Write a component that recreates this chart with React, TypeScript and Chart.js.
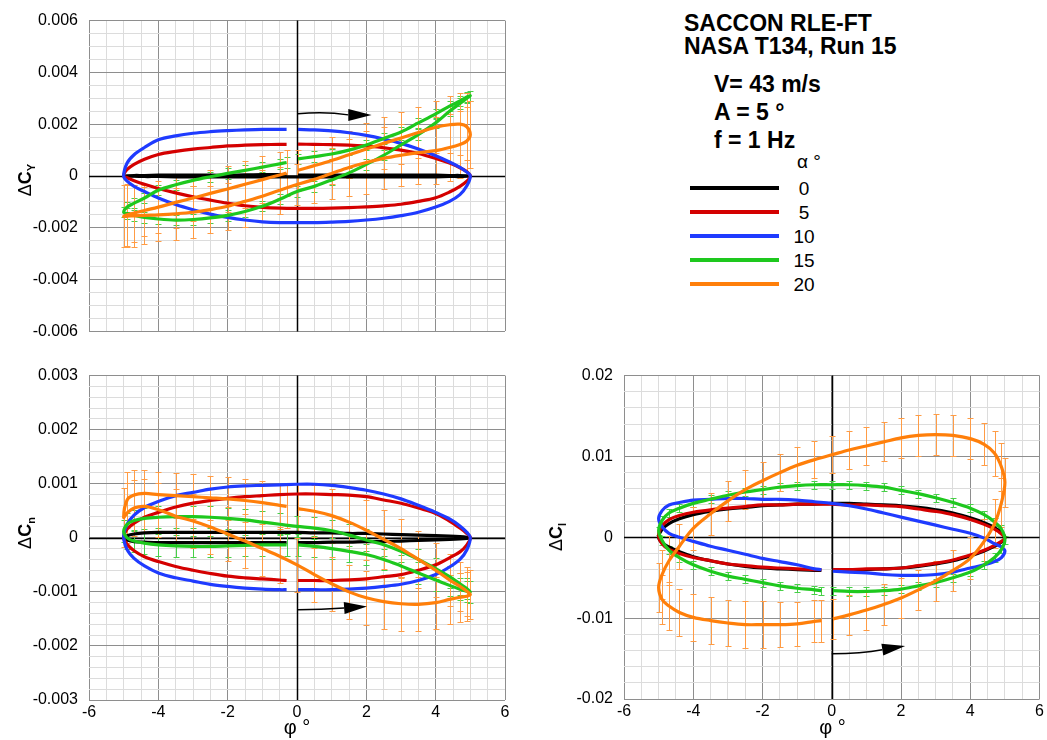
import React, { useEffect, useRef } from 'react';
import { Chart, registerables } from 'chart.js';

Chart.register(...registerables);

const FONT = '"Liberation Sans", Arial, Helvetica, sans-serif';

// Roll angle phi (deg) along one oscillation cycle: 0 -> 5 -> -5 -> -0.3
const PHI = [
  0.03, 0.5, 1, 1.5, 2, 2.5, 3, 3.5, 4, 4.4, 4.7, 4.9,
  5,
  4.9, 4.7, 4.4, 4, 3.5, 3, 2.5, 2, 1.5, 1, 0.5, 0, -0.5, -1, -1.5, -2, -2.5, -3, -3.5, -4, -4.4, -4.7, -4.9,
  -5,
  -4.9, -4.7, -4.4, -4, -3.5, -3, -2.5, -2, -1.5, -1, -0.5, -0.3,
];

const ALPHA_LABELS = ['0', '5', '10', '15', '20'];
const LINE_COLORS = ['#000000', '#d40000', '#1f3bff', '#1ec81e', '#ff7f0a'];
const ERR_COLORS = ['', '', '', '#48d048', '#ff9c45'];

// ---------- Delta C_Y ----------
const CY_BLACK = [
  0.00003, 0.00003, 0.00003, 0.00003, 0.00003, 0.00003, 0.00003, 0.00003, 0.00003, 0.00002, 0.00002, 0.00001,
  0,
  -0.00001, -0.00002, -0.00002, -0.00003, -0.00003, -0.00003, -0.00003, -0.00003, -0.00003, -0.00003, -0.00003, -0.00003,
  -0.00003, -0.00003, -0.00003, -0.00003, -0.00003, -0.00003, -0.00003, -0.00002, -0.00002, -0.00001, -0.00001,
  0,
  0.00001, 0.00002, 0.00002, 0.00003, 0.00003, 0.00003, 0.00003, 0.00003, 0.00004, 0.00005, 0.00005, 0.00004,
];
const CY_RED = [
  0.00123, 0.00122, 0.00121, 0.00119, 0.00116, 0.00109, 0.001, 0.00087, 0.00068, 0.0005, 0.00032, 0.00016,
  0,
  -0.0002, -0.0004, -0.00062, -0.00084, -0.00098, -0.00109, -0.00115, -0.00119, -0.00122, -0.00124, -0.00125, -0.00125,
  -0.00124, -0.00121, -0.00115, -0.00105, -0.00093, -0.0008, -0.00065, -0.00048, -0.00032, -0.00018, -0.00007,
  0,
  0.00025, 0.00045, 0.00065, 0.00083, 0.00095, 0.00104, 0.0011, 0.00116, 0.00119, 0.00121, 0.00122, 0.00122,
];
const CY_BLUE = [
  0.0018, 0.00178, 0.00174, 0.00167, 0.00157, 0.00143, 0.00126, 0.00104, 0.00078, 0.00054, 0.00033, 0.00015,
  0,
  -0.00038, -0.00072, -0.00098, -0.0012, -0.0014, -0.00153, -0.00163, -0.0017, -0.00175, -0.00178, -0.0018, -0.0018,
  -0.0018, -0.00177, -0.0017, -0.0016, -0.00147, -0.0013, -0.0011, -0.00085, -0.0006, -0.0004, -0.0002,
  0,
  0.0005, 0.00082, 0.0011, 0.0014, 0.00155, 0.00165, 0.00171, 0.00175, 0.00178, 0.0018, 0.0018, 0.0018,
];
const CY_GREEN = [
  0.00066, 0.00075, 0.00085, 0.001, 0.0012, 0.00145, 0.0017, 0.00205, 0.0024, 0.0027, 0.0029, 0.00305,
  0.0031,
  0.003, 0.0028, 0.0025, 0.00205, 0.0016, 0.0012, 0.0008, 0.00045, 0.00012, -0.00015, -0.0004, -0.0006,
  -0.0009, -0.00117, -0.00137, -0.00152, -0.00162, -0.00168, -0.0017, -0.00166, -0.0016, -0.00152, -0.00145,
  -0.0014,
  -0.0012, -0.00105, -0.00085, -0.00055, -0.00034, -0.00017, -0.00003, 0.0001, 0.00022, 0.00034, 0.00047, 0.00052,
];
const CY_ORANGE = [
  0.00022, 0.0004, 0.0006, 0.00082, 0.00104, 0.00126, 0.00147, 0.00168, 0.00188, 0.00198, 0.002, 0.0019,
  0.0016,
  0.00135, 0.00122, 0.0011, 0.00098, 0.0009, 0.0008, 0.00068, 0.00052, 0.00033, 0.0001, -0.00013, -0.00033,
  -0.00055, -0.00078, -0.00098, -0.00117, -0.0013, -0.0014, -0.00146, -0.0015, -0.00152, -0.00154, -0.00155,
  -0.00156,
  -0.0015, -0.00143, -0.00133, -0.0012, -0.00102, -0.00085, -0.00067, -0.0005, -0.00032, -0.00014, 0.00004, 0.00011,
];
const CY_ORANGE_ERR = [
  0.0008, 0.0008, 0.0009, 0.0009, 0.001, 0.001, 0.001, 0.001, 0.001, 0.0011, 0.0012, 0.0013,
  0.0013,
  0.0013, 0.0013, 0.0013, 0.0013, 0.0012, 0.0012, 0.0012, 0.0012, 0.0011, 0.001, 0.0009, 0.0008,
  0.0009, 0.001, 0.001, 0.0009, 0.0009, 0.001, 0.001, 0.001, 0.0011, 0.0012, 0.0012,
  0.0012,
  0.0012, 0.0011, 0.001, 0.001, 0.001, 0.0009, 0.0009, 0.0009, 0.0009, 0.0009, 0.0009, 0.0009,
];
const CY_GREEN_ERR = 0.0002;

// ---------- Delta C_n ----------
const CN_BLACK = [
  -0.00009, -0.00009, -0.00008, -0.00008, -0.00007, -0.00007, -0.00006, -0.00005, -0.00004, -0.00003, -0.00002, -0.00001,
  0,
  0.00001, 0.00002, 0.00003, 0.00004, 0.00005, 0.00006, 0.00007, 0.00008, 0.00008, 0.00009, 0.00009, 0.0001,
  0.0001, 0.0001, 0.0001, 0.0001, 0.0001, 0.0001, 0.0001, 0.0001, 0.00009, 0.00007, 0.00004,
  0,
  -0.00004, -0.00007, -0.00008, -0.00009, -0.00009, -0.00009, -0.00009, -0.00009, -0.00009, -0.00009, -0.00009, -0.00009,
];
const CN_RED = [
  -0.00079, -0.00079, -0.00079, -0.00078, -0.00076, -0.00072, -0.00068, -0.0006, -0.0005, -0.00037, -0.00026, -0.00013,
  0,
  0.00008, 0.00018, 0.00031, 0.00045, 0.00055, 0.00064, 0.0007, 0.00076, 0.00079, 0.0008, 0.00081, 0.00081,
  0.0008, 0.00078, 0.00076, 0.00073, 0.00069, 0.00064, 0.00057, 0.00047, 0.00038, 0.00027, 0.00016,
  0,
  -0.00012, -0.00024, -0.00035, -0.00044, -0.00053, -0.0006, -0.00066, -0.00071, -0.00074, -0.00076, -0.00078, -0.00079,
];
const CN_BLUE = [
  -0.00096, -0.00096, -0.00096, -0.00095, -0.00093, -0.0009, -0.00086, -0.00079, -0.00068, -0.00054, -0.0004, -0.00022,
  0,
  0.0001, 0.00022, 0.00035, 0.00047, 0.0006, 0.00072, 0.00081, 0.00088, 0.00093, 0.00097, 0.00099, 0.00099,
  0.00098, 0.00097, 0.00096, 0.00094, 0.0009, 0.00084, 0.00078, 0.00067, 0.00056, 0.00042, 0.00025,
  0.00003,
  -0.00022, -0.00038, -0.00052, -0.00065, -0.00074, -0.0008, -0.00086, -0.0009, -0.00093, -0.00095, -0.00096, -0.00096,
];
const CN_GREEN = [
  -0.00013, -0.00016, -0.0002, -0.00025, -0.00031, -0.0004, -0.00052, -0.00065, -0.00078, -0.00088, -0.00095, -0.00099,
  -0.001,
  -0.00094, -0.00085, -0.00072, -0.00057, -0.0004, -0.00025, -0.00013, -0.00004, 0.00005, 0.00013, 0.00018, 0.00021,
  0.00025, 0.00029, 0.00033, 0.00036, 0.00038, 0.00039, 0.00039, 0.00038, 0.00036, 0.00032, 0.00025,
  0.00012,
  0, -0.00006, -0.0001, -0.00013, -0.00015, -0.00016, -0.00016, -0.00015, -0.00014, -0.00013, -0.00013, -0.00013,
];
const CN_ORANGE = [
  0.00054, 0.00049, 0.00041, 0.00029, 0.00014, -0.00003, -0.0002, -0.0004, -0.0006, -0.00078, -0.0009, -0.00099,
  -0.00105,
  -0.00108, -0.0011, -0.00114, -0.0012, -0.00123, -0.00122, -0.00118, -0.00111, -0.001, -0.00085, -0.00068, -0.0005,
  -0.00034, -0.0002, -0.00006, 0.00007, 0.0002, 0.00031, 0.0004, 0.00052, 0.00058, 0.00055, 0.00046,
  0.00038,
  0.0007, 0.00079, 0.00082, 0.0008, 0.00078, 0.00076, 0.00074, 0.00072, 0.00069, 0.00065, 0.0006, 0.00058,
];
const CN_ORANGE_ERR = [
  0.00045, 0.00048, 0.0005, 0.00052, 0.00055, 0.00055, 0.00055, 0.00052, 0.0005, 0.00048, 0.00046, 0.00045,
  0.00045,
  0.00045, 0.00045, 0.00046, 0.00048, 0.0005, 0.0005, 0.0005, 0.0005, 0.0005, 0.0005, 0.0005, 0.0005,
  0.0005, 0.0005, 0.0005, 0.0005, 0.0005, 0.0005, 0.0005, 0.0005, 0.0005, 0.00052, 0.00055,
  0.00055,
  0.00052, 0.00046, 0.00043, 0.00042, 0.00042, 0.00042, 0.00041, 0.0004, 0.0004, 0.0004, 0.0004, 0.0004,
];
const CN_GREEN_ERR = 0.0002;

// ---------- Delta C_l ----------
const CL_BLACK = [
  -0.0041, -0.0041, -0.004, -0.0039, -0.0038, -0.0036, -0.0033, -0.0029, -0.0023, -0.0017, -0.0011, -0.0006,
  0,
  0.0006, 0.0012, 0.0018, 0.0024, 0.003, 0.0034, 0.0037, 0.0039, 0.004, 0.0041, 0.0042, 0.0042,
  0.0041, 0.0041, 0.004, 0.0039, 0.0037, 0.0035, 0.0032, 0.0028, 0.0023, 0.0017, 0.001,
  0,
  -0.0007, -0.0012, -0.0018, -0.0024, -0.0029, -0.0033, -0.0036, -0.0038, -0.0039, -0.004, -0.0041, -0.0041,
];
const CL_RED = [
  -0.004, -0.004, -0.0039, -0.0039, -0.0038, -0.0035, -0.0032, -0.0028, -0.0022, -0.0016, -0.001, -0.0005,
  -0.0001,
  0.0004, 0.001, 0.0016, 0.0022, 0.0028, 0.0032, 0.0035, 0.0038, 0.0039, 0.004, 0.004, 0.0041,
  0.0041, 0.0041, 0.004, 0.004, 0.0038, 0.0036, 0.0034, 0.0031, 0.0027, 0.0022, 0.0014,
  0.0002,
  -0.0008, -0.0015, -0.002, -0.0025, -0.0029, -0.0033, -0.0035, -0.0037, -0.0038, -0.0039, -0.004, -0.004,
];
const CL_BLUE = [
  -0.0042, -0.0043, -0.0044, -0.0046, -0.0047, -0.0047, -0.0046, -0.0043, -0.0038, -0.0034, -0.003, -0.0025,
  -0.0017,
  -0.0012, -0.0008, -0.0001, 0.0005, 0.001, 0.0015, 0.002, 0.0025, 0.003, 0.0035, 0.0039, 0.0042,
  0.0044, 0.0046, 0.0047, 0.0047, 0.0048, 0.0048, 0.0047, 0.0046, 0.0043, 0.004, 0.0033,
  0.0023,
  0.0013, 0.0005, 0, -0.0005, -0.0011, -0.0016, -0.0021, -0.0026, -0.003, -0.0034, -0.0039, -0.004,
];
const CL_GREEN = [
  -0.0066, -0.0067, -0.0067, -0.0066, -0.0064, -0.006, -0.0056, -0.005, -0.0043, -0.0034, -0.0025, -0.0015,
  -0.0003,
  0.001, 0.0019, 0.0028, 0.0036, 0.0043, 0.0049, 0.0054, 0.0058, 0.0062, 0.0064, 0.0065, 0.0065,
  0.0065, 0.0064, 0.0062, 0.0059, 0.0056, 0.0052, 0.0047, 0.0042, 0.0036, 0.003, 0.0021,
  0.0008,
  -0.0004, -0.0016, -0.0025, -0.0034, -0.0042, -0.0048, -0.0052, -0.0056, -0.006, -0.0063, -0.0065, -0.0066,
];
const CL_ORANGE = [
  -0.0101, -0.0096, -0.009, -0.0083, -0.0075, -0.0065, -0.0054, -0.0041, -0.0026, -0.0005, 0.0017, 0.0043,
  0.0068,
  0.0087, 0.0104, 0.0115, 0.0122, 0.0126, 0.0127, 0.0126, 0.0123, 0.0118, 0.0113, 0.0108, 0.0102,
  0.0096, 0.0089, 0.008, 0.007, 0.0059, 0.0045, 0.0029, 0.0011, -0.0011, -0.0029, -0.0046,
  -0.0062,
  -0.0077, -0.0085, -0.0093, -0.0099, -0.0103, -0.0106, -0.0108, -0.0108, -0.0108, -0.0107, -0.0104, -0.0103,
];
const CL_ORANGE_ERR = [
  0.0025, 0.0025, 0.0025, 0.0025, 0.0025, 0.0025, 0.0025, 0.0025, 0.0026, 0.0028, 0.003, 0.003,
  0.003,
  0.003, 0.0028, 0.0026, 0.0025, 0.0025, 0.0025, 0.0025, 0.0025, 0.0024, 0.0023, 0.0023, 0.0023,
  0.0023, 0.0023, 0.0023, 0.0023, 0.0024, 0.0025, 0.0026, 0.0027, 0.0028, 0.003, 0.003,
  0.003,
  0.003, 0.003, 0.0029, 0.0029, 0.0029, 0.0029, 0.0029, 0.0029, 0.0028, 0.0027, 0.0026, 0.0026,
];
const CL_GREEN_ERR = 0.0005;

// Direction arrows: [start x,y, control x,y, head base x,y, tip x,y] in data units
const ARROW_CY = [0.02, 0.0024, 0.8, 0.0025, 1.48, 0.00236, 2.15, 0.00236];
const ARROW_CN = [0.03, -0.00133, 0.7, -0.00133, 1.36, -0.0013, 2.02, -0.00127];
const ARROW_CL = [0.0, -0.0144, 0.85, -0.0144, 1.46, -0.0139, 2.12, -0.01345];

const X_MIN = -6;
const X_MAX = 6;
const X_MINOR = 0.5;
const X_MAJOR = 2;

const PANELS = [
  {
    key: 'cy', left: 0, top: 0, width: 520, height: 352, padTop: 16, padRight: 15, yAxisW: 89, xAxisH: 10, showX: false,
    yMin: -0.006, yMax: 0.006, yMinor: 0.0005, yMajor: 0.002,
    series: [CY_BLACK, CY_RED, CY_BLUE, CY_GREEN, CY_ORANGE],
    errors: [null, null, null, CY_GREEN_ERR, CY_ORANGE_ERR],
    arrow: ARROW_CY,
  },
  {
    key: 'cn', left: 0, top: 355, width: 520, height: 385, padTop: 18, padRight: 15, yAxisW: 89, xAxisH: 40, showX: true,
    yMin: -0.003, yMax: 0.003, yMinor: 0.0002, yMajor: 0.001,
    series: [CN_BLACK, CN_RED, CN_BLUE, CN_GREEN, CN_ORANGE],
    errors: [null, null, null, CN_GREEN_ERR, CN_ORANGE_ERR],
    arrow: ARROW_CN,
  },
  {
    key: 'cl', left: 535, top: 355, width: 512, height: 385, padTop: 18, padRight: 6, yAxisW: 89, xAxisH: 41, showX: true,
    yMin: -0.02, yMax: 0.02, yMinor: 0.002, yMajor: 0.01,
    series: [CL_BLACK, CL_RED, CL_BLUE, CL_GREEN, CL_ORANGE],
    errors: [null, null, null, CL_GREEN_ERR, CL_ORANGE_ERR],
    arrow: ARROW_CL,
  },
];

function gridTicks(min: number, max: number, step: number) {
  const out: any[] = [];
  const n = Math.round((max - min) / step);
  for (let i = 0; i <= n; i++) out.push({ value: Math.round((min + i * step) * 1e9) / 1e9 });
  return out;
}
function isMajor(v: number, major: number) {
  const r = v / major;
  return Math.abs(r - Math.round(r)) < 1e-6;
}
function fmt(v: number) {
  return String(Number(v.toFixed(6)));
}
function gridColor(major: number) {
  return (c: any) => {
    const v = c.tick ? c.tick.value : 0;
    return isMajor(v, major) ? '#8e8e8e' : '#dcdcdc';
  };
}

function makeOverlay(arrow: number[]) {
  return {
    id: 'overlay',
    beforeDatasetsDraw(chart: any) {
      const { ctx, chartArea: a, scales } = chart;
      const xs = scales.x;
      const ys = scales.y;
      ctx.save();
      // zero axes
      const x0 = Math.round(xs.getPixelForValue(0)) + 0.5;
      const y0 = Math.round(ys.getPixelForValue(0)) + 0.5;
      ctx.strokeStyle = '#000';
      ctx.lineWidth = 1.5;
      ctx.beginPath();
      ctx.moveTo(x0, a.top);
      ctx.lineTo(x0, a.bottom);
      ctx.moveTo(a.left, y0);
      ctx.lineTo(a.right, y0);
      ctx.stroke();
      // error bars
      ctx.beginPath();
      ctx.rect(a.left, a.top, a.right - a.left, a.bottom - a.top);
      ctx.clip();
      chart.data.datasets.forEach((ds: any) => {
        if (ds.errorBars == null) return;
        ctx.strokeStyle = ds.errorColor;
        ctx.lineWidth = 1;
        const cap = 3;
        ds.data.forEach((p: any, j: number) => {
          const e = Array.isArray(ds.errorBars) ? ds.errorBars[j] : ds.errorBars;
          const px = Math.round(xs.getPixelForValue(p.x)) + 0.5;
          const yT = Math.round(ys.getPixelForValue(p.y + e)) + 0.5;
          const yB = Math.round(ys.getPixelForValue(p.y - e)) + 0.5;
          ctx.beginPath();
          ctx.moveTo(px, yT);
          ctx.lineTo(px, yB);
          ctx.moveTo(px - cap, yT);
          ctx.lineTo(px + cap, yT);
          ctx.moveTo(px - cap, yB);
          ctx.lineTo(px + cap, yB);
          ctx.stroke();
        });
      });
      ctx.restore();
    },
    afterDatasetsDraw(chart: any) {
      const { ctx, scales } = chart;
      const X = (v: number) => scales.x.getPixelForValue(v);
      const Y = (v: number) => scales.y.getPixelForValue(v);
      const [sx, sy, cx, cy, bx, by, tx, ty] = arrow;
      ctx.save();
      ctx.strokeStyle = '#000';
      ctx.fillStyle = '#000';
      ctx.lineWidth = 1.5;
      ctx.beginPath();
      ctx.moveTo(X(sx), Y(sy));
      ctx.quadraticCurveTo(X(cx), Y(cy), X(bx), Y(by));
      ctx.stroke();
      const pbx = X(bx), pby = Y(by), ptx = X(tx), pty = Y(ty);
      const dx = ptx - pbx, dy = pty - pby;
      const len = Math.hypot(dx, dy) || 1;
      const nx = -dy / len, ny = dx / len;
      const hw = 6;
      ctx.beginPath();
      ctx.moveTo(ptx, pty);
      ctx.lineTo(pbx + nx * hw, pby + ny * hw);
      ctx.lineTo(pbx - nx * hw, pby - ny * hw);
      ctx.closePath();
      ctx.fill();
      ctx.restore();
    },
  };
}

function Panel({ cfg }: { cfg: any }) {
  const ref = useRef<HTMLCanvasElement>(null);
  useEffect(() => {
    const canvas = ref.current;
    if (!canvas) return;
    const datasets = cfg.series.map((vals: number[], k: number) => ({
      label: ALPHA_LABELS[k],
      data: PHI.map((x, i) => ({ x, y: vals[i] })),
      showLine: true,
      borderColor: LINE_COLORS[k],
      backgroundColor: LINE_COLORS[k],
      borderWidth: 3.2,
      pointRadius: 0,
      pointHoverRadius: 0,
      tension: 0.35,
      fill: false,
      order: 4 - k,
      errorBars: cfg.errors[k],
      errorColor: ERR_COLORS[k],
    }));
    const tickFont = { size: 16, family: FONT };
    const chart = new Chart(canvas, {
      type: 'scatter',
      data: { datasets },
      options: {
        responsive: false,
        animation: false,
        events: [],
        layout: { padding: { top: cfg.padTop, right: cfg.padRight, left: 0, bottom: 0 } },
        plugins: { legend: { display: false }, tooltip: { enabled: false }, title: { display: false } },
        scales: {
          x: {
            type: 'linear',
            min: X_MIN,
            max: X_MAX,
            afterBuildTicks: (s: any) => { s.ticks = gridTicks(X_MIN, X_MAX, X_MINOR); },
            afterFit: (s: any) => { s.height = cfg.xAxisH; },
            ticks: {
              display: cfg.showX,
              autoSkip: false,
              maxRotation: 0,
              minRotation: 0,
              padding: 3,
              color: '#000',
              font: tickFont,
              callback: (v: any) => (isMajor(Number(v), X_MAJOR) ? fmt(Number(v)) : ''),
            },
            grid: { drawTicks: false, color: gridColor(X_MAJOR), lineWidth: 1 },
            border: { display: false },
          },
          y: {
            type: 'linear',
            min: cfg.yMin,
            max: cfg.yMax,
            afterBuildTicks: (s: any) => { s.ticks = gridTicks(cfg.yMin, cfg.yMax, cfg.yMinor); },
            afterFit: (s: any) => { s.width = cfg.yAxisW; },
            ticks: {
              autoSkip: false,
              padding: 11,
              color: '#000',
              font: tickFont,
              callback: (v: any) => (isMajor(Number(v), cfg.yMajor) ? fmt(Number(v)) : ''),
            },
            grid: { drawTicks: false, color: gridColor(cfg.yMajor), lineWidth: 1 },
            border: { display: false },
          },
        },
      } as any,
      plugins: [makeOverlay(cfg.arrow)],
    } as any);
    return () => chart.destroy();
  }, [cfg]);
  return (
    <canvas
      ref={ref}
      width={cfg.width}
      height={cfg.height}
      style={{ position: 'absolute', left: cfg.left, top: cfg.top, width: cfg.width, height: cfg.height }}
    />
  );
}

const Y_TITLES = [
  { sub: 'Y', cx: 26, cy: 180 },
  { sub: 'n', cx: 26, cy: 533 },
  { sub: 'l', cx: 557, cy: 537 },
];
const X_TITLES = [{ cx: 297 }, { cx: 832.5 }];

const HEADER_LINES = ['SACCON RLE-FT', 'NASA T134, Run 15'];
const CONDITION_LINES = ['V= 43 m/s', 'A = 5 °', 'f = 1 Hz'];

export default function App() {
  return (
    <div
      style={{
        position: 'fixed', left: 0, top: 0, width: 1047, height: 740, background: '#fff',
        fontFamily: FONT, color: '#000', overflow: 'hidden',
      }}
    >
      {PANELS.map((p) => <Panel key={p.key} cfg={p} />)}

      {Y_TITLES.map((t) => (
        <div
          key={t.sub}
          style={{
            position: 'absolute', left: t.cx, top: t.cy, transform: 'translate(-50%, -50%) rotate(-90deg)',
            fontSize: 18, fontWeight: 'bold', whiteSpace: 'nowrap', lineHeight: '18px',
          }}
        >
          <span style={{ fontWeight: 'normal' }}>Δ</span>C
          <span style={{ fontSize: 11, position: 'relative', top: 4 }}>{t.sub}</span>
        </div>
      ))}

      {X_TITLES.map((t, i) => (
        <div
          key={i}
          style={{
            position: 'absolute', left: t.cx - 50, top: 717, width: 100, textAlign: 'center',
            fontSize: 20, lineHeight: '20px', whiteSpace: 'pre',
          }}
        >
          {'φ °'}
        </div>
      ))}

      <div style={{ position: 'absolute', left: 684, top: 12, fontSize: 23, fontWeight: 'bold', lineHeight: '23.3px', whiteSpace: 'nowrap' }}>
        {HEADER_LINES.map((l) => <div key={l}>{l}</div>)}
      </div>
      <div style={{ position: 'absolute', left: 714, top: 70, fontSize: 23, fontWeight: 'bold', lineHeight: '28px', whiteSpace: 'nowrap' }}>
        {CONDITION_LINES.map((l) => <div key={l}>{l}</div>)}
      </div>

      <div style={{ position: 'absolute', left: 797, top: 152, fontSize: 19, lineHeight: '19px', whiteSpace: 'pre' }}>{'α °'}</div>
      {ALPHA_LABELS.map((lab, k) => (
        <React.Fragment key={lab}>
          <div style={{ position: 'absolute', left: 690, top: 186 + 24 * k, width: 89, height: 4, background: LINE_COLORS[k] }} />
          <div style={{ position: 'absolute', left: 784, top: 178.7 + 24 * k, width: 40, textAlign: 'center', fontSize: 19, lineHeight: '19px' }}>
            {lab}
          </div>
        </React.Fragment>
      ))}
    </div>
  );
}
